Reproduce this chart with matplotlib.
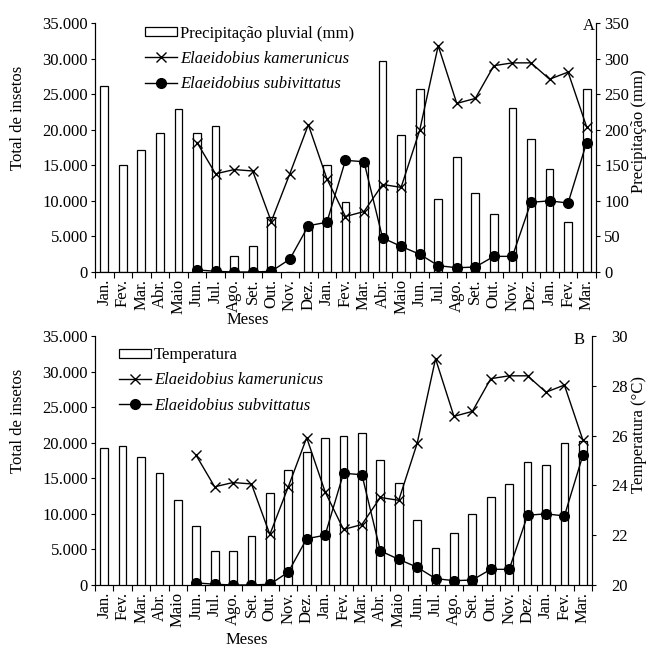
import matplotlib
matplotlib.use('Agg')
import matplotlib.pyplot as plt
import matplotlib.ticker as mticker
from matplotlib.patches import Patch
from matplotlib.lines import Line2D
import numpy as np

plt.rcParams['font.family'] = ['Liberation Serif', 'DejaVu Serif']
plt.rcParams['font.size'] = 12

nan = np.nan

# meses: jan/ano1 ate mar/ano3
meses = ['Jan.', 'Fev.', 'Mar.', 'Abr.', 'Maio', 'Jun.', 'Jul.', 'Ago.', 'Set.', 'Out.', 'Nov.', 'Dez.',
         'Jan.', 'Fev.', 'Mar.', 'Abr.', 'Maio', 'Jun.', 'Jul.', 'Ago.', 'Set.', 'Out.', 'Nov.', 'Dez.',
         'Jan.', 'Fev.', 'Mar.']

# total de insetos
kamerunicus = [nan, nan, nan, nan, nan,
               18200, 13800, 14400, 14200, 7100, 13800, 20700,
               13100, 7800, 8500, 12300, 11900, 19900, 31800, 23700, 24400, 29000, 29400, 29400,
               27100, 28100, 20400]
subvittatus = [nan, nan, nan, nan, nan,
               300, 100, 0, 0, 100, 1800, 6500,
               7000, 15700, 15500, 4800, 3600, 2500, 900, 600, 700, 2200, 2200, 9800,
               10000, 9700, 18200]

# precipitacao pluvial (mm)
precipitacao = [262, 150, 171, 196, 229, 195, 205, 23, 37, 77, 0, 62,
                150, 99, 155, 296, 193, 257, 103, 162, 111, 81, 230, 187,
                145, 71, 257]

# temperatura (C)
temperatura = [25.5, 25.6, 25.15, 24.5, 23.4, 22.35, 21.35, 21.35, 21.95, 23.7, 24.6, 25.35,
               25.9, 26.0, 26.1, 25.0, 24.1, 22.6, 21.5, 22.1, 22.85, 23.55, 24.05, 24.95,
               24.8, 25.7, 25.8]

x = np.arange(len(meses))


def milhar(v, pos):
    return f'{int(v):,}'.replace(',', '.')


def painel(rect, barras, nome_barra, nome_es, letra, letra_xy, ylim2, passo2, rotulo2,
           ylabel_y, ylabel2_xy, pad2, meses_y, leg_xy):
    ax = fig.add_axes(rect)
    ax2 = ax.twinx()

    ax2.bar(x, barras, width=0.42, color='white', edgecolor='black', linewidth=0.9)
    ax.plot(x, kamerunicus, color='black', lw=1, marker='x', ms=7, mew=1)
    ax.plot(x, subvittatus, color='black', lw=1, marker='o', ms=7)

    ax.set_zorder(ax2.get_zorder() + 1)
    ax.patch.set_visible(False)

    ax.set_xlim(-0.5, len(meses) - 0.5)
    ax.set_ylim(0, 35000)
    ax.yaxis.set_major_locator(mticker.MultipleLocator(5000))
    ax.yaxis.set_major_formatter(mticker.FuncFormatter(milhar))
    ax2.set_ylim(*ylim2)
    ax2.yaxis.set_major_locator(mticker.MultipleLocator(passo2))

    ax.set_xticks(np.arange(-0.5, len(meses)))
    ax.set_xticklabels([])
    ax.set_xticks(x, minor=True)
    ax.set_xticklabels(meses, minor=True, rotation=90, va='top')
    ax.tick_params(axis='x', which='major', direction='out', length=4)
    ax.tick_params(axis='x', which='minor', length=0, pad=5)
    ax.tick_params(axis='y', direction='out', length=3, pad=2)
    ax2.tick_params(axis='y', direction='out', length=3, pad=pad2)

    for a in (ax, ax2):
        a.spines['top'].set_visible(False)

    ax.set_ylabel('Total de insetos')
    ax.yaxis.set_label_coords(-0.138, ylabel_y)
    ax.set_xlabel('Meses')
    ax.xaxis.set_label_coords(0.305, meses_y)
    ax2.set_ylabel(rotulo2)
    ax2.yaxis.set_label_coords(*ylabel2_xy)

    ax.text(letra_xy[0], letra_xy[1], letra, transform=ax.transAxes, ha='right', va='center')

    handles = [Patch(facecolor='white', edgecolor='black', linewidth=0.9),
               Line2D([], [], color='black', lw=1, marker='x', ms=7, mew=1),
               Line2D([], [], color='black', lw=1, marker='o', ms=7)]
    labels = [nome_barra, 'Elaeidobius kamerunicus', nome_es]
    leg = ax.legend(handles, labels, loc='upper left', bbox_to_anchor=leg_xy,
                    frameon=False, handlelength=1.9, handleheight=0.5, handletextpad=0.2,
                    labelspacing=0.55, borderaxespad=0, borderpad=0)
    for t in leg.get_texts()[1:]:
        t.set_fontstyle('italic')
    return ax, ax2


fig = plt.figure(figsize=(6.48, 6.52), dpi=100)

painel([0.1466, 0.5828, 0.773, 0.3819], precipitacao, 'Precipitação pluvial (mm)',
       'Elaeidobius subivittatus', 'A', (0.997, 0.99), (0, 350), 50, 'Precipitação (mm)',
       0.62, (1.07, 0.566), 3, -0.16, (0.1, 0.99))
painel([0.1466, 0.1028, 0.767, 0.3819], temperatura, 'Temperatura',
       'Elaeidobius subvittatus', 'B', (0.985, 0.985), (20, 30), 2, 'Temperatura (°C)',
       0.66, (1.079, 0.606), 11, -0.19, (0.048, 0.955))

fig.savefig('out.png', dpi=100)
